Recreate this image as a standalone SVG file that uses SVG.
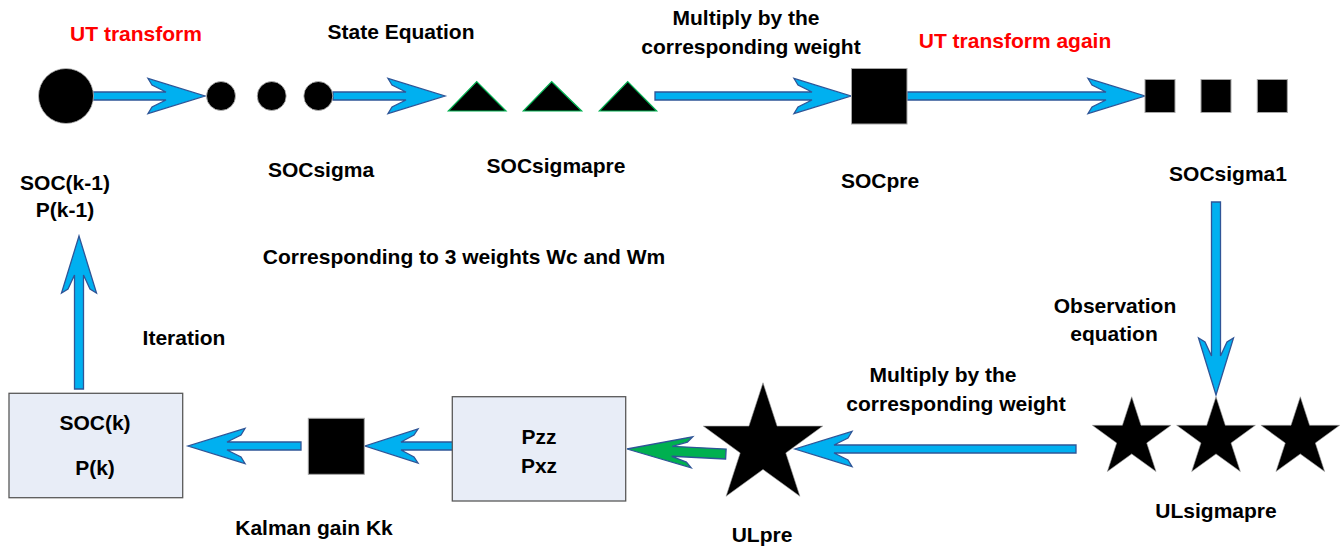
<svg xmlns="http://www.w3.org/2000/svg" width="1342" height="547" viewBox="0 0 1342 547">
<style>
text{font-family:"Liberation Sans",Arial,sans-serif;font-weight:bold;font-size:21px;fill:#000;text-anchor:middle}
text.red{fill:#FF0000}
.arr{fill:#00B0F0;stroke:#2F5597;stroke-width:1.3;stroke-linejoin:miter}
.garr{fill:#00B050;stroke:#2F5597;stroke-width:1.3}
.blk{fill:#000;stroke:#A6A6A6;stroke-width:1}
.tri{fill:#000;stroke:#00B050;stroke-width:1.2}
.box{fill:#E8EDF7;stroke:#595959;stroke-width:1.3}
.star{fill:#000;stroke:#A0A0A0;stroke-width:0.6}
</style>
<defs>
<polygon id="ustar" points="0,-1 0.2245,-0.309 0.9511,-0.309 0.3633,0.118 0.5878,0.809 0,0.382 -0.5878,0.809 -0.3633,0.118 -0.9511,-0.309 -0.2245,-0.309" vector-effect="non-scaling-stroke"/>
</defs>

<!-- labels -->
<g id="labels">
<text class="red" x="136" y="41">UT transform</text>
<text x="401" y="39">State Equation</text>
<text x="746" y="25">Multiply by the</text>
<text x="751" y="54">corresponding weight</text>
<text class="red" x="1015" y="48">UT transform again</text>
<text x="464" y="264">Corresponding to 3 weights Wc and Wm</text>
<text x="184" y="345">Iteration</text>
<text x="1115" y="313">Observation</text>
<text x="1114" y="341">equation</text>
<text x="943" y="382">Multiply by the</text>
<text x="956" y="411">corresponding weight</text>
</g>

<!-- connectors -->
<g id="connectors">
<polygon class="arr" transform="translate(205,96)" points="-112,-4 -39,-4 -53,-11 -57,-17.5 0,0 -57,17.5 -53,11 -39,4 -112,4"/>
<polygon class="arr" transform="translate(445,96)" points="-112,-4 -39,-4 -53,-11 -57,-17.5 0,0 -57,17.5 -53,11 -39,4 -112,4"/>
<polygon class="arr" transform="translate(851,96)" points="-196,-4 -39,-4 -53,-11 -57,-17.5 0,0 -57,17.5 -53,11 -39,4 -196,4"/>
<polygon class="arr" transform="translate(1145,96)" points="-238,-4 -39,-4 -53,-11 -57,-17.5 0,0 -57,17.5 -53,11 -39,4 -238,4"/>
<polygon class="arr" transform="translate(1216,395) rotate(90)" points="-193,-4.5 -39,-4.5 -53,-11 -57,-17.5 0,0 -57,17.5 -53,11 -39,4.5 -193,4.5"/>
<polygon class="arr" transform="translate(795,449) rotate(180)" points="-281,-4 -39,-4 -53,-11 -57,-17.5 0,0 -57,17.5 -53,11 -39,4 -281,4"/>
<polygon class="garr" transform="translate(627,449) rotate(182.9)" points="-99,-5 -45,-5 -60,-10 -65,-15.5 0,0 -65,15.5 -60,10 -45,5 -99,5"/>
<polygon class="arr" transform="translate(365,446) rotate(180)" points="-88,-4 -36,-4 -49,-11 -53,-17 0,0 -53,17 -49,11 -36,4 -88,4"/>
<polygon class="arr" transform="translate(188,446) rotate(180)" points="-113,-4 -39,-4 -53,-11 -57,-17.5 0,0 -57,17.5 -53,11 -39,4 -113,4"/>
<polygon class="arr" transform="translate(79,236) rotate(-90)" points="-153,-4.5 -39,-4.5 -53,-11 -57,-17.5 0,0 -57,17.5 -53,11 -39,4.5 -153,4.5"/>
</g>

<!-- nodes -->
<g id="node-soc-k1">
<circle cx="66" cy="96" r="27.5" fill="#000" stroke="#BFBFBF" stroke-width="0.8"/>
<text x="65" y="190">SOC(k-1)</text>
<text x="65" y="217">P(k-1)</text>
</g>
<g id="node-socsigma">
<circle cx="221" cy="96" r="14.5" fill="#000" stroke="#BFBFBF" stroke-width="0.8"/>
<circle cx="271.7" cy="96" r="14.5" fill="#000" stroke="#BFBFBF" stroke-width="0.8"/>
<circle cx="318.3" cy="96" r="14.5" fill="#000" stroke="#BFBFBF" stroke-width="0.8"/>
<text x="321" y="177">SOCsigma</text>
</g>
<g id="node-socsigmapre">
<polygon class="tri" points="448.3,111 476.7,81.7 506,111"/>
<polygon class="tri" points="523.3,111 551.7,81.7 581.7,111"/>
<polygon class="tri" points="599.3,111 627.7,81.7 656.7,111"/>
<text x="556" y="173">SOCsigmapre</text>
</g>
<g id="node-socpre">
<rect class="blk" x="851.5" y="68.5" width="55.5" height="55.5"/>
<text x="880" y="188">SOCpre</text>
</g>
<g id="node-socsigma1">
<rect class="blk" x="1145" y="79.5" width="30" height="33"/>
<rect class="blk" x="1201" y="79.5" width="30" height="33"/>
<rect class="blk" x="1257.3" y="79.5" width="30" height="33"/>
<text x="1228" y="181">SOCsigma1</text>
</g>
<g id="node-ulsigmapre">
<use href="#ustar" class="star" transform="translate(1131.7,438.1) scale(41.4)"/>
<use href="#ustar" class="star" transform="translate(1216,438.1) scale(41.4)"/>
<use href="#ustar" class="star" transform="translate(1300.3,438.1) scale(41.4)"/>
<text x="1216" y="518">ULsigmapre</text>
</g>
<g id="node-ulpre">
<use href="#ustar" class="star" transform="translate(763,445.5) scale(62.8)"/>
<text x="762" y="542">ULpre</text>
</g>
<g id="node-pzz">
<rect class="box" x="452.3" y="396.7" width="173.4" height="104.3"/>
<text x="539" y="444">Pzz</text>
<text x="539" y="473">Pxz</text>
</g>
<g id="node-kalman">
<rect class="blk" x="308.3" y="418.3" width="56" height="56"/>
<text x="314" y="535">Kalman gain Kk</text>
</g>
<g id="node-sock">
<rect class="box" x="9" y="393.3" width="173.7" height="104.4"/>
<text x="95" y="430">SOC(k)</text>
<text x="95" y="475">P(k)</text>
</g>
</svg>
